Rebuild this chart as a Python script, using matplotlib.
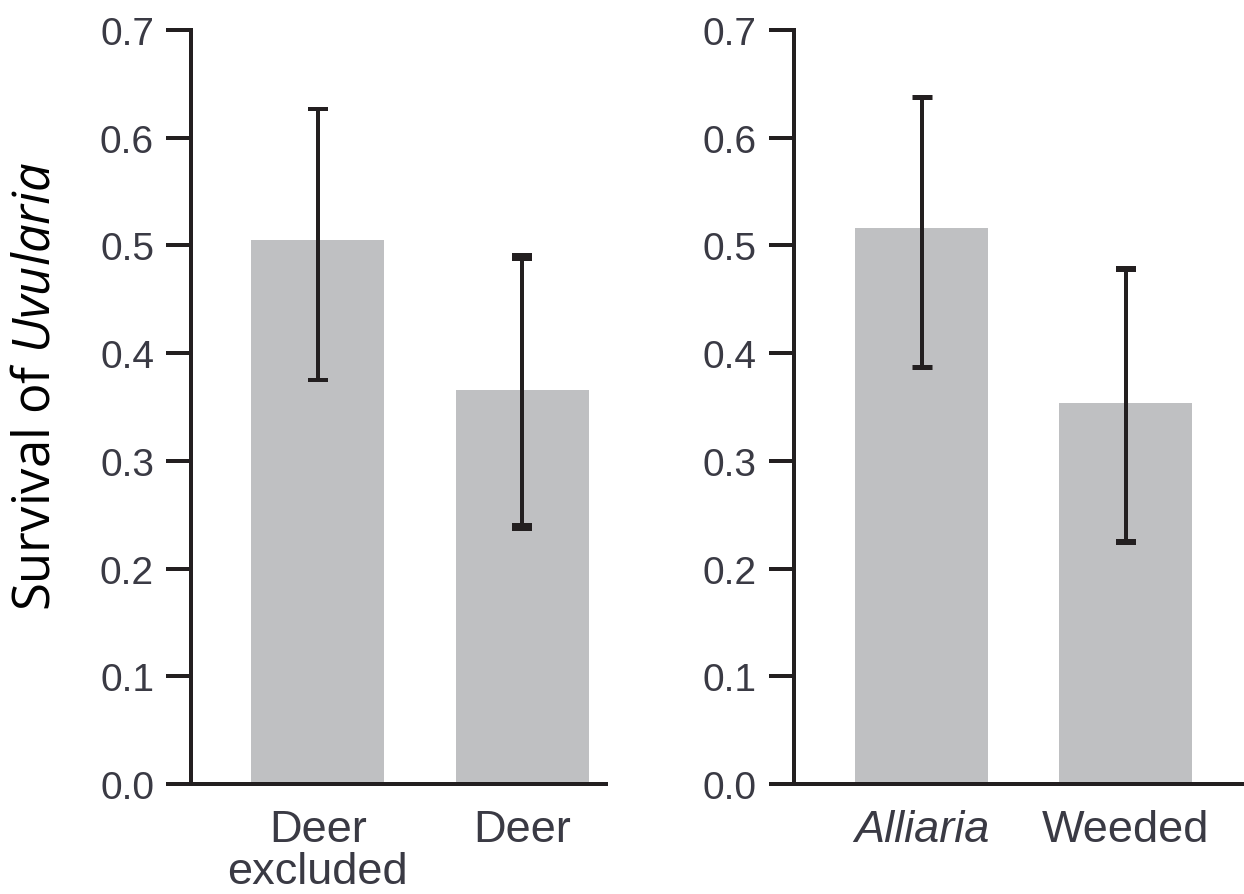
import matplotlib
matplotlib.use("Agg")
import matplotlib.pyplot as plt

# Survival data for the two experiments
left_categories = ["Deer\nexcluded", "Deer"]
left_means = [0.505, 0.366]
left_err_low = [0.375, 0.239]
left_err_high = [0.627, 0.489]

right_categories = ["Alliaria", "Weeded"]
right_means = [0.516, 0.354]
right_err_low = [0.387, 0.225]
right_err_high = [0.638, 0.478]

y_ticks = [0.0, 0.1, 0.2, 0.3, 0.4, 0.5, 0.6, 0.7]

plt.rcParams["mathtext.fontset"] = "custom"
plt.rcParams["mathtext.rm"] = "Open Sans"
plt.rcParams["mathtext.it"] = "Open Sans:italic"

DPI = 100
fig = plt.figure(figsize=(12.44, 8.95), dpi=DPI)

INK = "#231f20"
BAR = "#bfc0c2"
LABEL = "#3a3a44"
px = 72 / DPI  # points per pixel

bottom = (895 - 785) / 895
height = (785 - 31) / 895
ax_left = fig.add_axes([191 / 1244, bottom, (606 - 191) / 1244, height])
ax_right = fig.add_axes([794 / 1244, bottom, (1244 - 794) / 1244, height])


def draw_panel(ax, cats, means, lo, hi, capthick, xlim, italic=()):
    xs = list(range(len(cats)))
    ax.bar(xs, means, width=0.652, color=BAR, zorder=1)
    for x, m, l, h, ct in zip(xs, means, lo, hi, capthick):
        ax.errorbar([x], [m], yerr=[[m - l], [h - m]], fmt="none",
                    ecolor=INK, elinewidth=4 * px, capsize=10 * px,
                    capthick=ct * px, zorder=3)
    ax.set_xlim(*xlim)
    ax.set_ylim(0, 0.7)
    ax.set_yticks(y_ticks)
    ax.set_yticklabels([f"{t:.1f}" for t in y_ticks])
    ax.set_xticks(xs)
    ax.set_xticklabels(cats, linespacing=1.02)
    for s in ("top", "right"):
        ax.spines[s].set_visible(False)
    for s in ("left", "bottom"):
        ax.spines[s].set_color(INK)
        ax.spines[s].set_linewidth(4 * px)
    ax.tick_params(axis="y", length=25 * px, width=4 * px, color=INK,
                   pad=12 * px, labelsize=28, labelcolor=LABEL)
    ax.tick_params(axis="x", length=0, pad=25 * px, labelsize=32.5,
                   labelcolor=LABEL)
    for lab in ax.get_yticklabels() + ax.get_xticklabels():
        lab.set_family("Liberation Sans")
    for i in italic:
        ax.get_xticklabels()[i].set_fontstyle("italic")


draw_panel(ax_left, left_categories, left_means, left_err_low, left_err_high,
           [4, 8], (-0.62, 1.41))
draw_panel(ax_right, right_categories, right_means, right_err_low,
           right_err_high, [5, 6], (-0.625, 1.58), italic=(0,))

fig.text(36 / 1244, 1 - 386 / 895, r"Survival of $\mathit{Uvularia}$",
         rotation=90, ha="center", va="center", fontsize=36.5,
         family="Open Sans", color="black")

fig.savefig("out.png", dpi=DPI)
